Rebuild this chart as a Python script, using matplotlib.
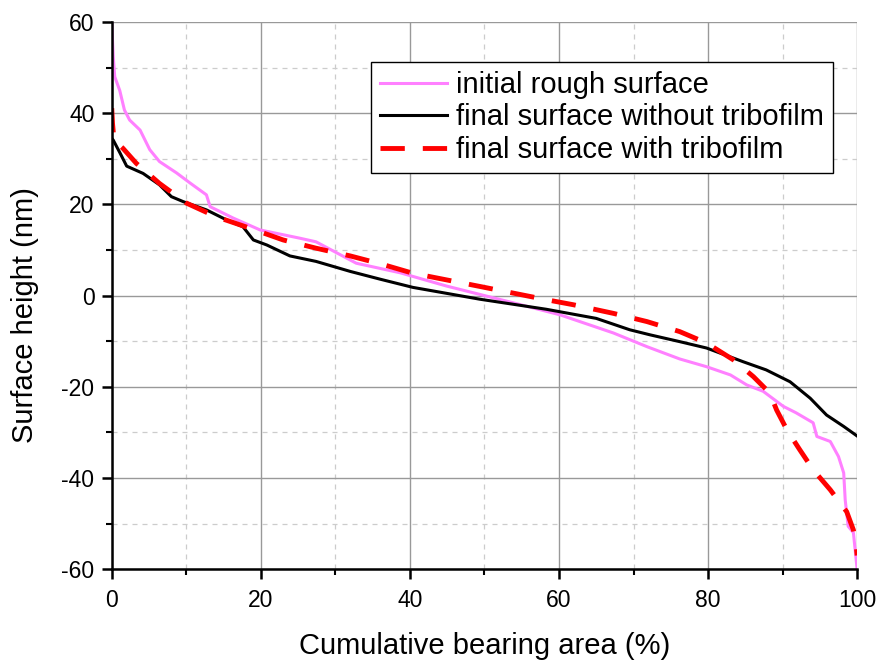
import matplotlib
matplotlib.use("Agg")
import matplotlib.pyplot as plt
from matplotlib.ticker import MultipleLocator

plt.rcParams['font.family'] = ['Liberation Sans', 'DejaVu Sans']
plt.rcParams['axes.unicode_minus'] = False

# initial rough surface
x_init = [0, 0.1, 0.2, 0.4, 1.07, 1.7, 2.4, 3.8, 5.1, 6.4, 8.7, 10.5, 12.7, 13.2, 16.3,
          19.9, 25.2, 27.4, 32.8, 38.7, 44.9, 53.9, 60.1, 67.3, 71.8, 76.2, 79.8, 83.0,
          85.2, 87.4, 90.1, 91.8, 94.1, 94.6, 96.4, 97.5, 98.2, 98.4, 98.8, 99.5, 100]
y_init = [60, 56, 52.4, 48, 45, 40.7, 38.5, 36.3, 32, 29.4, 26.9, 24.7, 22.1, 19.5, 17,
          14.4, 12.6, 11.8, 7.1, 5.0, 2.1, -1.6, -4.2, -8.2, -11.2, -13.9, -15.6, -17.4,
          -19.6, -21.0, -24.3, -25.7, -27.9, -30.9, -32, -35.3, -38.9, -44.8, -50.6, -52, -60]

# final surface without tribofilm
x_without = [0, 0.2, 1.1, 2.0, 4.2, 6.4, 8.0, 9.6, 12.7, 15.4, 17.6, 19.0, 20.8, 23.9,
             27.4, 32.0, 36.0, 40.4, 49.4, 58.3, 65.0, 69.5, 72.2, 76.2, 79.8, 84.7,
             87.8, 91.0, 93.7, 95.9, 98.2, 100]
y_without = [34.5, 34.1, 31.3, 28.4, 26.8, 24.3, 21.7, 20.6, 18.8, 16.6, 15.1, 12.2, 11.1,
             8.7, 7.5, 5.3, 3.6, 1.8, -0.8, -3.0, -5.0, -7.5, -8.6, -10.1, -11.5, -14.5,
             -16.3, -18.9, -22.5, -26.2, -28.7, -30.8]

# final surface with tribofilm
x_with = [0, 0.1, 0.3, 1.5, 3.3, 6.4, 10.0, 14.0, 18.5, 23.0, 27.4, 32.0, 36.2, 40.4,
          49.4, 58.3, 61.9, 67.3, 71.8, 76.2, 79.8, 83.4, 86.1, 88.3, 89.2, 90.6, 92.3,
          94.1, 96.4, 98.6, 99.5, 99.9, 100]
y_with = [41.1, 37.8, 34.1, 32.3, 29.0, 24.6, 20.3, 17.3, 14.8, 12.2, 10.4, 8.7, 6.9, 4.9,
          2.0, -0.9, -2.0, -3.9, -5.7, -7.9, -10.4, -14.1, -17.8, -21.4, -25.1, -29.5,
          -33.8, -38.2, -42.6, -47.4, -51.4, -55.4, -57]

labels = ["initial rough surface", "final surface without tribofilm",
          "final surface with tribofilm"]

fig = plt.figure(figsize=(8.8, 6.68), dpi=100)
ax = fig.add_axes([0.127, 0.148, 0.847, 0.819])

ax.plot(x_init, y_init, color='#ff80ff', lw=2.2, label=labels[0])
ax.plot(x_without, y_without, color='black', lw=2.2, label=labels[1])
ax.plot(x_with, y_with, color='#ff0000', lw=3.5, ls=(0, (5, 3.7)), label=labels[2])

ax.set_xlim(0, 100)
ax.set_ylim(-60, 60)
ax.xaxis.set_major_locator(MultipleLocator(20))
ax.xaxis.set_minor_locator(MultipleLocator(10))
ax.yaxis.set_major_locator(MultipleLocator(20))
ax.yaxis.set_minor_locator(MultipleLocator(10))

ax.grid(which='major', color='#999999', lw=1.0, ls='-')
ax.grid(which='minor', color='#cccccc', lw=0.9, ls=(0, (4, 4)))
ax.set_axisbelow(True)

for s in ['top', 'right']:
    ax.spines[s].set_visible(False)
for s in ['left', 'bottom']:
    ax.spines[s].set_linewidth(1.8)

ax.tick_params(which='major', direction='out', length=7.5, width=1.8, labelsize=16.5)
ax.tick_params(axis='x', which='major', pad=7)
ax.tick_params(axis='y', which='major', pad=5)
ax.tick_params(which='minor', direction='out', length=4, width=1.5)

ax.set_xlabel("Cumulative bearing area (%)", fontsize=21, labelpad=14)
ax.set_ylabel("Surface height (nm)", fontsize=21)
ax.yaxis.set_label_coords(-0.097, 0.465)

leg = ax.legend(loc='upper right', bbox_to_anchor=(0.967, 0.927), fontsize=21,
                frameon=True, fancybox=False, edgecolor='black', framealpha=1,
                handlelength=2.3, borderpad=0.3, labelspacing=0.16, handletextpad=0.3,
                borderaxespad=0)
leg.get_frame().set_linewidth(1.0)

fig.savefig("out.png", dpi=100)
